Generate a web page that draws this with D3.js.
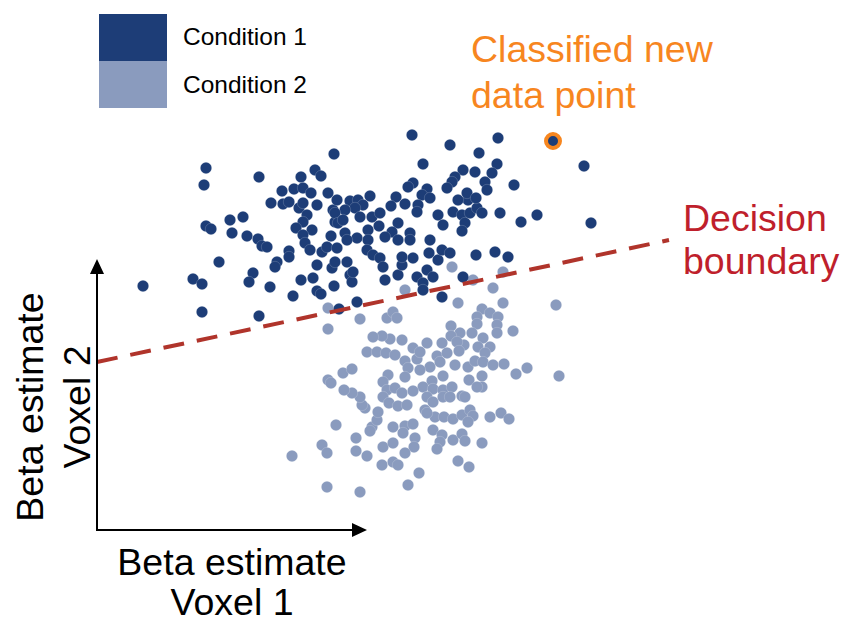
<!DOCTYPE html>
<html>
<head>
<meta charset="utf-8">
<script src="https://cdn.jsdelivr.net/npm/d3@7"></script>
<style>
  html, body { margin: 0; padding: 0; background: #fff; }
  svg { display: block; font-family: "Liberation Sans", Arial, Helvetica, sans-serif; }
</style>
</head>
<body>
<svg id="chart" width="845" height="624"></svg>
<script>
// Beta estimates (arbitrary units) for voxel 1 (x) and voxel 2 (y)
const condition1 = [
  [237,376],[109,362],[162,353],[218,360],[224,354],[204,353],[107,345],[185,339],[197,341],[206,342],
  [214,337],[231,337],[174,327],[186,326],[192,328],[202,322],[206,327],[220,325],[236,320],[210,315],
  [109,304],[114,301],[133,310],[146,313],[135,297],[150,294],[206,308],[199,302],[215,300],[206,295],
  [234,294],[238,308],[161,291],[165,284],[170,283],[208,287],[213,280],[225,278],[230,283],[192,279],
  [192,273],[180,268],[178,263],[122,268],[220,265],[235,262],[238,268],[156,257],[152,248],[96,251],
  [105,246],[173,243],[204,250],[216,252],[237,244],[220,239],[224,236],[196,234],[105,218],[162,214],
  [46,244],[253,255],[255,248],[242,221],[260,228],[250,268],[315,395],[353,385],[382,377],[326,366],
  [366,360],[358,353],[378,358],[355,348],[350,342],[316,347],[311,343],[330,341],[325,335],[333,332],
  [299,333],[294,324],[308,326],[321,325],[320,318],[273,334],[240,330],[253,329],[261,330],[266,325],
  [258,322],[248,320],[238,317],[241,307],[263,313],[275,313],[283,317],[282,304],[301,307],[295,298],
  [288,293],[271,300],[271,290],[260,292],[248,297],[250,290],[240,282],[270,280],[276,275],[283,272],
  [286,263],[256,258],[288,250],[301,255],[305,265],[305,273],[316,272],[313,297],[313,290],[301,290],
  [333,290],[332,277],[341,270],[345,280],[353,277],[320,253],[330,260],[336,253],[326,247],[326,240],
  [345,233],[341,315],[346,305],[356,318],[365,315],[368,307],[365,299],[373,317],[380,322],[371,330],
  [361,330],[370,337],[379,332],[379,275],[366,253],[401,392],[400,366],[395,357],[388,348],[390,340],
  [417,345],[487,364],[385,317],[403,317],[424,308],[440,315],[494,307],[398,278],[411,273],[246,310]
];

const condition2 = [
  [231,222],[263,211],[231,201],[290,212],[296,218],[300,212],[308,240],[355,263],[376,250],[406,258],
  [396,242],[361,227],[406,227],[459,225],[385,221],[393,217],[401,213],[380,213],[380,206],[400,205],
  [354,204],[416,199],[363,197],[375,197],[400,197],[354,194],[386,192],[381,183],[393,183],[388,177],
  [367,185],[360,188],[345,187],[330,187],[316,182],[305,190],[293,191],[285,194],[276,193],[270,178],
  [280,178],[289,177],[298,175],[308,169],[320,171],[323,178],[340,174],[350,177],[362,179],[358,165],
  [371,163],[378,169],[386,168],[396,165],[407,166],[430,162],[419,156],[462,154],[385,154],[372,150],
  [385,143],[311,162],[333,163],[343,168],[323,160],[346,154],[335,149],[326,143],[308,153],[291,155],
  [286,148],[290,140],[298,142],[305,137],[316,139],[336,141],[346,140],[355,143],[380,143],[365,134],
  [330,133],[336,128],[346,133],[353,133],[368,133],[286,133],[292,127],[301,124],[310,125],[328,120],
  [338,113],[347,113],[356,111],[365,115],[373,120],[376,114],[371,108],[393,113],[404,117],[412,111],
  [296,103],[308,104],[316,106],[306,97],[336,100],[345,95],[343,88],[356,90],[365,96],[368,89],
  [385,87],[286,83],[296,87],[318,92],[317,83],[308,77],[340,81],[285,65],[296,68],[301,65],
  [361,69],[372,63],[322,57],[311,45],[263,38],[230,43],[195,74],[225,85],[230,77],[259,92],
  [259,79],[270,74],[239,105],[275,103],[273,99],[280,110],[281,118],[268,122],[265,125],[263,133],
  [255,137],[247,140],[231,150],[234,147],[246,157],[255,161],[330,117]
];

// Newly classified observation
const newPoint = [[456,389]];

// Linear decision boundary, endpoints
const boundaryX = [0, 572];
const boundaryY = [168, 290];

const legendLabels = ["Condition 1", "Condition 2"];
const xTitle = ["Beta estimate", "Voxel 1"];
const yTitle = ["Beta estimate", "Voxel 2"];
const newPointLabel = ["Classified new", "data point"];
const boundaryLabel = ["Decision", "boundary"];

const colors = { c1: "#1d3d77", c2: "#8a9bbe", accent: "#f7861f", boundary: "#b0342b", boundaryText: "#bf1f2c" };

const svg = d3.select("#chart");

const x = d3.scaleLinear().domain([0, 270]).range([97, 367]);
const y = d3.scaleLinear().domain([0, 271]).range([530, 259]);

// Points: condition 2 underneath, condition 1 on top
const r = 5.7;
svg.append("g").selectAll("circle").data(condition2).join("circle")
  .attr("cx", d => x(d[0])).attr("cy", d => y(d[1])).attr("r", r)
  .attr("fill", colors.c2).attr("stroke", "#fff").attr("stroke-width", 0.5).attr("stroke-opacity", 0.35);

svg.append("g").selectAll("circle").data(condition1).join("circle")
  .attr("cx", d => x(d[0])).attr("cy", d => y(d[1])).attr("r", r)
  .attr("fill", colors.c1).attr("stroke", "#fff").attr("stroke-width", 0.5).attr("stroke-opacity", 0.35);

// Decision boundary
svg.append("path")
  .datum(boundaryX.map((v, i) => [v, boundaryY[i]]))
  .attr("d", d3.line().x(d => x(d[0])).y(d => y(d[1])))
  .attr("fill", "none")
  .attr("stroke", colors.boundary)
  .attr("stroke-width", 4)
  .attr("stroke-dasharray", "21,13");

// Classified new point with ring
svg.append("g").selectAll("circle").data(newPoint).join("circle")
  .attr("cx", d => x(d[0])).attr("cy", d => y(d[1])).attr("r", 7)
  .attr("fill", colors.c1).attr("stroke", colors.accent).attr("stroke-width", 4);

// Axes with arrowheads
const x0 = x(0), y0 = y(0), xEnd = x(270), yEnd = y(271);
const head = 15, half = 7;
svg.append("path")
  .attr("d", `M${x0},${yEnd + head - 1}V${y0}H${xEnd - head + 1}`)
  .attr("fill", "none").attr("stroke", "#000").attr("stroke-width", 2);
svg.append("path")
  .attr("d", `M${x0},${yEnd}L${x0 - half},${yEnd + head}L${x0 + half},${yEnd + head}Z`)
  .attr("fill", "#000");
svg.append("path")
  .attr("d", `M${xEnd},${y0}L${xEnd - head},${y0 - half}L${xEnd - head},${y0 + half}Z`)
  .attr("fill", "#000");

// Axis titles
const bigFont = 37.5;
svg.append("g").selectAll("text").data(xTitle).join("text")
  .attr("x", x(135)).attr("y", (d, i) => 575 + i * 40)
  .attr("text-anchor", "middle").attr("font-size", bigFont).attr("fill", "#000")
  .text(d => d);

svg.append("g").attr("transform", `translate(0,${y(123)}) rotate(-90)`)
  .selectAll("text").data(yTitle).join("text")
  .attr("x", 0).attr("y", (d, i) => 43 + i * 47)
  .attr("text-anchor", "middle").attr("font-size", bigFont).attr("fill", "#000")
  .text(d => d);

// Legend
const legend = svg.append("g");
legend.selectAll("rect").data(legendLabels).join("rect")
  .attr("x", 99).attr("y", (d, i) => 14 + i * 47)
  .attr("width", 68).attr("height", 47)
  .attr("fill", (d, i) => i === 0 ? colors.c1 : colors.c2);
legend.selectAll("text").data(legendLabels).join("text")
  .attr("x", 183).attr("y", (d, i) => 45 + i * 48)
  .attr("font-size", 24.5).attr("fill", "#000")
  .text(d => d);

// Annotations
svg.append("g").selectAll("text").data(newPointLabel).join("text")
  .attr("x", 471).attr("y", (d, i) => 62 + i * 46)
  .attr("font-size", bigFont).attr("fill", colors.accent)
  .text(d => d);

svg.append("g").selectAll("text").data(boundaryLabel).join("text")
  .attr("x", 683).attr("y", (d, i) => 231 + i * 43)
  .attr("font-size", bigFont).attr("fill", colors.boundaryText)
  .text(d => d);
</script>
</body>
</html>
